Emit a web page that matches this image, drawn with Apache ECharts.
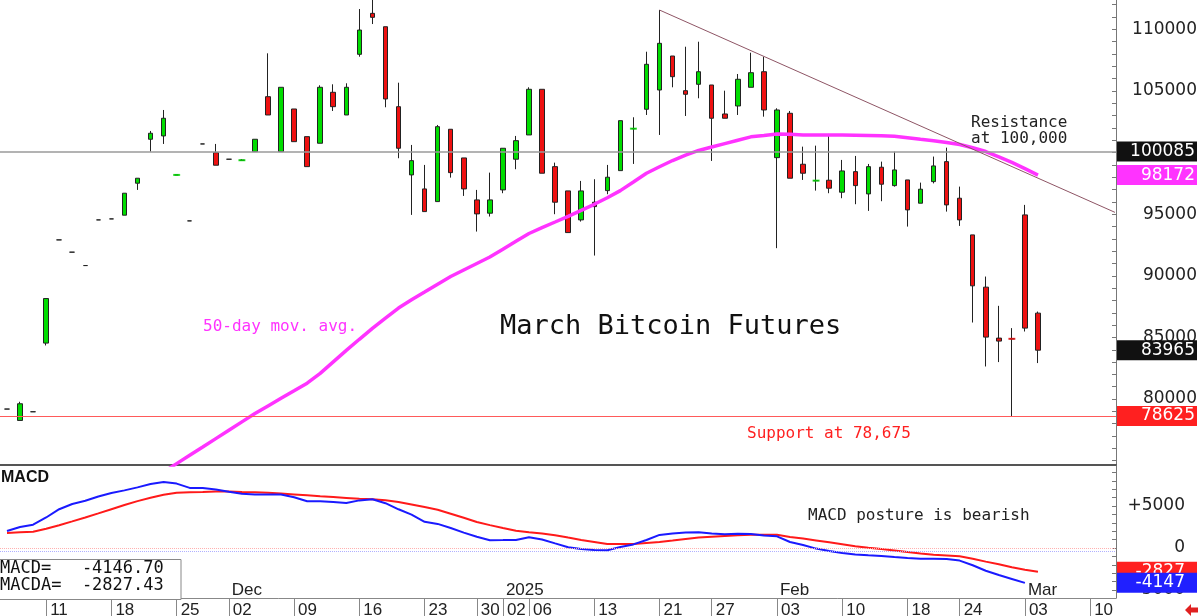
<!DOCTYPE html>
<html><head><meta charset="utf-8">
<script src="https://cdn.jsdelivr.net/npm/echarts@6/dist/echarts.min.js"></script>
<style>html,body{margin:0;padding:0;background:#fff;}#c{width:1200px;height:616px;}</style>
</head><body><div id="c"></div>
<script>
// ---- data (bar index 0 = 2024-11-06) ----
// [open, close, low, high]
const ohlc = [
 [79190,79190,79190,79190],[78265,79619,78265,79780],[78970,78970,78970,78970],[84541,88157,84350,88157],
 [92916,92916,92916,92916],[91919,91919,91919,91919],[90833,90833,90833,90833],[94538,94538,94538,94538],
 [94619,94619,94619,94619],[94919,96703,94919,96703],[97514,97919,96970,97919],[101081,101568,100076,101754],
 [101349,102784,100700,103457],[98187,98187,98187,98187],[94457,94457,94457,94457],[100700,100700,100700,100700],
 [99995,98973,98973,100700],[99460,99460,99460,99460],[99378,99378,99378,99460],[100076,101081,100076,101081],
 [104535,103051,103051,108054],[100076,105297,100076,105297],[103538,100886,100886,103538],[101292,98860,98860,101292],
 [100757,105297,100757,105460],[104892,103724,103376,105540],[103051,105297,103051,105622],[107973,109943,107778,111646],
 [111297,110973,110430,112400],[110211,104349,103676,110211],[103724,100351,99540,105670],[98187,99346,94943,100619],
 [97051,95211,95211,98998],[96022,102103,96022,102241],[101892,98373,97968,101892],[99565,97051,96484,99565],
 [96160,95025,93590,96970],[95081,96160,94810,98373],[96970,100351,96703,100351],[99460,100968,98649,101349],
 [101430,105135,101430,105297],[105135,98324,98324,105135],[98860,95973,95000,99184],[96889,93508,93508,96889],
 [94538,96889,94400,97700],[95973,95617,91644,97838],[96913,98000,96622,98998],[98535,102589,98535,102589],
 [101941,101941,99079,102865],[103514,107162,103051,108184],[105078,108865,101430,111565],[107835,106157,105297,107835],
 [105022,104730,102970,108589],[105540,106562,104405,108995],[105484,102784,99322,105484],[103132,102784,102784,105022],
 [103781,105946,103051,106376],[105297,106481,105297,108103],[106562,103457,102914,107778],[99589,103457,92244,103595],
 [103189,97919,97919,103376],[99054,98324,97781,100481],[97724,97724,96914,100562],[97757,97108,96703,101511],
 [96784,98511,96297,99403],[98454,97319,95811,99727],[96646,98860,95268,99078],[98811,97433,96054,99265],
 [97319,98592,97238,100076],[97781,95349,93995,97781],[95892,97027,95892,97562],[97643,98916,97500,99676],
 [99265,95754,95211,100400],[96297,94538,94051,97238],[93322,89187,86211,93322],[89081,85027,82644,89941],
 [84946,84703,83000,87565],[84889,84889,78625,85757],[94943,85757,85481,95754],[86973,83965,82920,87100]
];
const greenDashIdx = [13, 18, 48, 62];
const redDashIdx = [77];

const ma50Start = 12;
const ma50 = [74081,74763,75436,76110,76790,77470,78150,78824,79440,80057,80673,81290,82084,83017,83950,84850,
 85740,86567,87387,88052,88684,89317,89940,90475,91002,91530,92162,92802,93435,93905,94367,94830,95316,95803,
 96330,96914,97611,98324,98852,99354,99800,100173,100449,100724,100999,101275,101389,101511,101478,101430,101430,
 101430,101430,101414,101390,101365,101333,101211,101081,100960,100822,100660,100392,100084,99646,99200,98698,98172];

const macd = [2024,2500,2774,3631,4619,5238,5631,6131,6548,6857,7214,7607,7845,7667,7155,7143,6952,6690,6452,6381,
 6369,6369,6036,5560,5560,5464,5357,5667,5798,5333,4607,3964,3119,2869,2381,1833,1333,917,940,964,1286,1012,548,95,
 -107,-226,-262,131,429,952,1560,1738,1833,1881,1726,1643,1690,1655,1500,1393,714,357,-71,-369,-583,-762,-857,-940,
 -1060,-1179,-1274,-1274,-1310,-1500,-2048,-2702,-3214,-3679,-4147];
const macdSignal = [1786,1869,1940,2286,2714,3167,3631,4119,4619,5119,5583,5988,6333,6583,6631,6679,6738,6714,6667,
 6631,6571,6476,6381,6274,6155,6060,5964,5869,5798,5679,5488,5190,4869,4548,4083,3595,3095,2726,2381,2048,1881,1726,
 1524,1238,964,726,476,476,476,607,726,881,1071,1250,1345,1429,1512,1583,1583,1583,1321,1131,905,679,440,202,24,
 -131,-298,-476,-667,-798,-893,-988,-1274,-1619,-1940,-2298,-2583,-2827];
const macdRefLines = [0, -360];

const dayTickIdx = [3,8,13,17,22,27,32,36,38,40,45,50,54,59,64,69,73,78,83];
const dayTickLabels = ['11','18','25','02','09','16','23','30','02','06','13','21','27','03','10','18','24','03','10'];
const monthTickIdx = [17, 38, 59, 78];
const monthLabels = ['Dec', '2025', 'Feb', 'Mar'];
const priceLabels = [80000, 85000, 90000, 95000, 100000, 105000, 110000];
const macdLabels = [-5000, 0, 5000];
const resistanceLevel = 100085;
const supportLevel = 78625;
const trendLine = [[50, 111565], [84.9, 95150]];

// ---- chart ----
const X_MIN = -0.536, X_MAX = 84.98;
const priceTickMarks = []; for (let v = 75000; v <= 112000; v += 1000) priceTickMarks.push(v);
const macdTickMarks = []; for (let v = -5000; v <= 9000; v += 1000) macdTickMarks.push(v);

function boxLabel(text, bg, padRight) {
  return {
    show: true, position: 'end', distance: 1, opacity: 1,
    formatter: '{t|' + text + '}',
    rich: { t: { backgroundColor: bg, color: '#fff', fontFamily: 'DejaVu Sans', fontSize: 17, opacity: 1,
      width: 80 - 3 - padRight, align: 'right', height: 20, lineHeight: 20, padding: [0, padRight, 0, 3] } }
  };
}
const noLine = { color: 'rgba(0,0,0,0)', width: 0.01 };

const lastClose = ohlc[ohlc.length - 1][1];
const lastMa = ma50[ma50.length - 1];
const lastMacd = macd[macd.length - 1];
const lastSignal = macdSignal[macdSignal.length - 1];

const dashData = (idxs) => idxs.map(i => [i, ohlc[i][1]]);

const chart = echarts.init(document.getElementById('c'), null, { renderer: 'canvas' });
const mono = '"DejaVu Sans Mono", monospace';
const hiddenAxis = { show: false, axisLine: { show: false }, axisTick: { show: false }, axisLabel: { show: false }, splitLine: { show: false } };

chart.setOption({
  animation: false,
  backgroundColor: '#fff',
  grid: [
    { left: 0, top: 0, width: 1116, height: 465 },
    { left: 0, top: 466, width: 1116, height: 132 },
    { left: 0, top: 598, width: 1116, height: 18 }
  ],
  xAxis: [
    { type: 'value', gridIndex: 0, min: X_MIN, max: X_MAX, splitLine: { show: false },
      axisLine: { show: true, onZero: false, lineStyle: { color: '#555', width: 2 } },
      axisTick: { show: false }, axisLabel: { show: false } },
    { type: 'value', gridIndex: 1, min: X_MIN, max: X_MAX, splitLine: { show: false }, position: 'bottom',
      axisLine: { show: true, onZero: false, lineStyle: { color: '#888', width: 1 } },
      axisTick: { show: false },
      axisLabel: { show: true, inside: true, customValues: monthTickIdx, margin: 8, align: 'left',
        verticalAlign: 'middle', padding: [0, 0, 0, 3],
        formatter: v => monthLabels[monthTickIdx.indexOf(Math.round(v))] || '',
        fontFamily: 'Liberation Sans', fontSize: 17, color: '#222' } },
    { type: 'value', gridIndex: 2, min: X_MIN, max: X_MAX, splitLine: { show: false }, position: 'top',
      axisLine: { show: false, onZero: false },
      axisTick: { show: true, inside: true, length: 18, customValues: dayTickIdx, lineStyle: { color: '#888' } },
      axisLabel: { show: true, inside: true, customValues: dayTickIdx, margin: 12.6, align: 'left',
        verticalAlign: 'middle', padding: [0, 0, 0, 4],
        formatter: v => dayTickLabels[dayTickIdx.indexOf(Math.round(v))] || '',
        fontFamily: 'Liberation Sans', fontSize: 17, color: '#222' } }
  ],
  yAxis: [
    { type: 'value', gridIndex: 0, position: 'right', min: 74650, max: 112380, splitLine: { show: false },
      axisLine: { show: true, onZero: false, lineStyle: { color: '#777' } },
      axisTick: { show: true, inside: true, length: 4, customValues: priceTickMarks, lineStyle: { color: '#777' } },
      axisLabel: { customValues: priceLabels, margin: 81, align: 'right', fontFamily: 'DejaVu Sans', fontSize: 17, color: '#222',
        formatter: v => String(v) } },
    { type: 'value', gridIndex: 1, position: 'right', min: -5950, max: 9760, splitLine: { show: false },
      axisLine: { show: true, onZero: false, lineStyle: { color: '#777' } },
      axisTick: { show: true, inside: true, length: 4, customValues: macdTickMarks, lineStyle: { color: '#777' } },
      axisLabel: { customValues: macdLabels, margin: 69, align: 'right', fontFamily: 'DejaVu Sans', fontSize: 17, color: '#222',
        formatter: v => (v > 0 ? '+' + v : String(v)) } },
    Object.assign({ type: 'value', gridIndex: 2, position: 'right', min: 0, max: 1 }, hiddenAxis)
  ],
  series: [
    { type: 'candlestick', xAxisIndex: 0, yAxisIndex: 0, barWidth: 5,
      data: ohlc.map((d, i) => [i, d[0], d[1], d[2], d[3]]),
      itemStyle: { color: '#00dd00', color0: '#ee1111', borderColor: '#222', borderColor0: '#222', borderWidth: 1 },
      markLine: { silent: true, symbol: ['none', 'none'], animation: false,
        data: [
          { yAxis: resistanceLevel, lineStyle: { color: '#9a9a9a', width: 1.5, type: 'solid' }, label: boxLabel(String(resistanceLevel), '#111', 2) },
          { yAxis: supportLevel, lineStyle: { color: '#ff5a5a', width: 1, type: 'solid' }, label: boxLabel(String(supportLevel), '#ff2020', 2) },
          { yAxis: lastClose, lineStyle: noLine, label: boxLabel(String(lastClose), '#111', 2) },
          [ { coord: trendLine[0], lineStyle: { color: '#8e5565', width: 1, type: 'solid' }, label: { show: false } },
            { coord: trendLine[1] } ]
        ] } },
    { type: 'scatter', xAxisIndex: 0, yAxisIndex: 0, symbol: 'rect', symbolSize: [7, 2], z: 4,
      data: dashData(greenDashIdx), itemStyle: { color: '#00dd00' } },
    { type: 'scatter', xAxisIndex: 0, yAxisIndex: 0, symbol: 'rect', symbolSize: [7, 2], z: 4,
      data: dashData(redDashIdx), itemStyle: { color: '#ee1111' } },
    { type: 'line', xAxisIndex: 0, yAxisIndex: 0, showSymbol: false, symbol: 'none',
      data: ma50.map((v, k) => [ma50Start + k, v]),
      lineStyle: { color: '#ff33ff', width: 3.5 }, z: 3,
      markLine: { silent: true, symbol: ['none', 'none'],
        data: [ { yAxis: lastMa, lineStyle: noLine, label: boxLabel(String(lastMa), '#ff33ff', 2) } ] } },
    { type: 'line', xAxisIndex: 1, yAxisIndex: 1, showSymbol: false, symbol: 'none',
      data: macdSignal.map((v, i) => [i, v]), lineStyle: { color: '#ff1a1a', width: 2 },
      markLine: { silent: true, symbol: ['none', 'none'],
        data: [
          { yAxis: macdRefLines[0], lineStyle: { color: '#ffb0b0', width: 1, type: 'dotted' }, label: { show: false } },
          { yAxis: macdRefLines[1], lineStyle: { color: '#b0b0ff', width: 1, type: 'dotted' }, label: { show: false } },
          { yAxis: lastSignal, lineStyle: noLine, label: boxLabel(String(lastSignal), '#ff2020', 12) }
        ] } },
    { type: 'line', xAxisIndex: 1, yAxisIndex: 1, showSymbol: false, symbol: 'none',
      data: macd.map((v, i) => [i, v]), lineStyle: { color: '#1a1aff', width: 2 },
      markLine: { silent: true, symbol: ['none', 'none'],
        data: [ { yAxis: lastMacd, lineStyle: noLine, label: boxLabel(String(lastMacd), '#2020ff', 12) } ] } }
  ],
  graphic: [
    { type: 'text', x: 971, y: 122.4, style: { text: 'Resistance', font: '16px ' + mono, fill: '#222', verticalAlign: 'middle' } },
    { type: 'text', x: 971, y: 138.4, style: { text: 'at 100,000', font: '16px ' + mono, fill: '#222', verticalAlign: 'middle' } },
    { type: 'text', x: 500, y: 326.5, style: { text: 'March Bitcoin Futures', font: '27px ' + mono, fill: '#111', verticalAlign: 'middle' } },
    { type: 'text', x: 203, y: 326.5, style: { text: '50-day mov. avg.', font: '16px ' + mono, fill: '#ff33ff', verticalAlign: 'middle' } },
    { type: 'text', x: 747, y: 434, style: { text: 'Support at 78,675', font: '16px ' + mono, fill: '#ff2020', verticalAlign: 'middle' } },
    { type: 'text', x: 808, y: 516, style: { text: 'MACD posture is bearish', font: '16px ' + mono, fill: '#222', verticalAlign: 'middle' } },
    { type: 'text', x: 1, y: 478, style: { text: 'MACD', font: 'bold 16px "Liberation Sans", Arial', fill: '#111', verticalAlign: 'middle' } },
    { type: 'rect', shape: { x: -1, y: 559.5, width: 182, height: 40 }, style: { fill: '#fff', stroke: '#888', lineWidth: 1 }, z: 10 },
    { type: 'text', x: 0, y: 569, z: 11, style: { text: 'MACD=   -4146.70', font: '17px ' + mono, fill: '#111', verticalAlign: 'middle' } },
    { type: 'text', x: 0, y: 586, z: 11, style: { text: 'MACDA=  -2827.43', font: '17px ' + mono, fill: '#111', verticalAlign: 'middle' } },
    { type: 'polygon', shape: { points: [[1185,610],[1191,604],[1191,607.5],[1198,607.5],[1198,612.5],[1191,612.5],[1191,616]] }, style: { fill: '#e02020' } }
  ]
});
</script>
</body></html>
